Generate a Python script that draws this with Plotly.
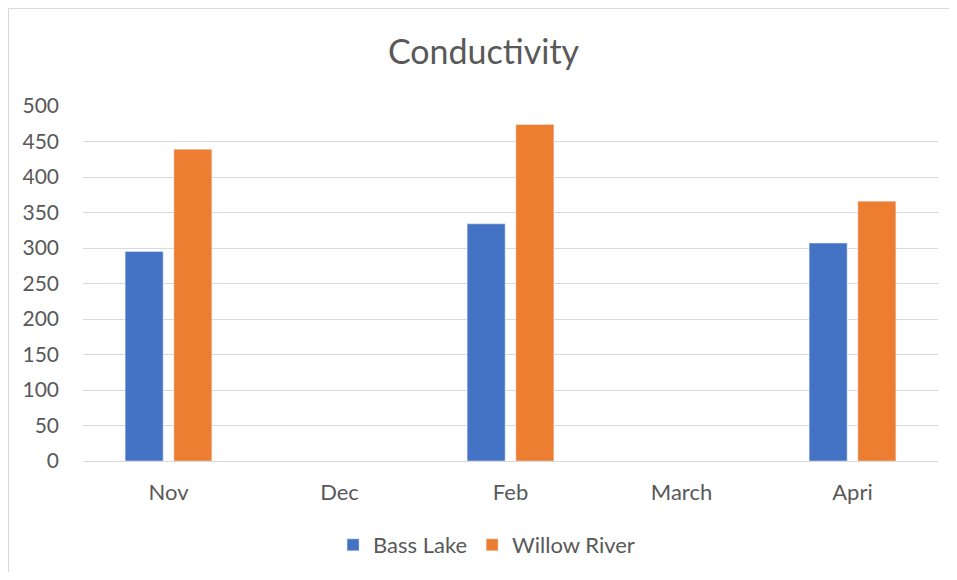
import plotly.graph_objects as go

categories = ["Nov", "Dec", "Feb", "March", "Apri"]
bass_lake = [295, None, 334, None, 307]
willow_river = [439, None, 474, None, 366]
y_ticks = [0, 50, 100, 150, 200, 250, 300, 350, 400, 450, 500]

font_family = "Lato, Carlito, Calibri, sans-serif"
txt = "#595959"

W, H = 949, 564
L, R, T, B = 75, 19, 98, 111
PW, PH = W - L - R, H - T - B

fig = go.Figure()
fig.add_trace(go.Bar(name="Bass Lake", x=categories, y=bass_lake, marker_color="#4472C4"))
fig.add_trace(go.Bar(name="Willow River", x=categories, y=willow_river, marker_color="#ED7D31"))

fig.update_layout(
    width=W, height=H,
    paper_bgcolor="white", plot_bgcolor="white",
    margin=dict(l=L, r=R, t=T, b=B, autoexpand=False),
    barmode="group", bargap=0.43, bargroupgap=0.22,
    font=dict(family=font_family, color=txt, size=22),
    title=dict(text="Conductivity", x=475.5 / W, xanchor="center", y=1 - 44 / H, yanchor="middle",
               font=dict(size=34, color=txt, family=font_family)),
    legend=dict(orientation="h", x=0.472, xanchor="center", y=1 - 537 / H, yanchor="middle",
                yref="container", font=dict(size=22, color=txt), itemwidth=30, traceorder="normal"),
    showlegend=True,
)
fig.update_yaxes(range=[0, 500], tickvals=y_ticks, showgrid=True, gridcolor="#d9d9d9",
                 gridwidth=1, zeroline=False, showline=False, ticks="",
                 ticklabelstandoff=23, tickfont=dict(size=21, color=txt))
fig.update_xaxes(showline=True, linecolor="#d9d9d9", linewidth=1, ticks="",
                 ticklabelstandoff=12, tickfont=dict(size=22, color=txt))
x_left = -(L - 0.5) / PW
y_top = 1 + (T - 0.5) / PH
fig.add_shape(type="line", xref="paper", yref="paper", x0=x_left, x1=1 + (R + 5) / PW, y0=y_top, y1=y_top,
              line=dict(color="#d9d9d9", width=1), layer="below")
fig.add_shape(type="line", xref="paper", yref="paper", x0=x_left, x1=x_left, y0=-(B + 5) / PH, y1=y_top,
              line=dict(color="#d9d9d9", width=1), layer="below")
fig.write_html("out.html")
